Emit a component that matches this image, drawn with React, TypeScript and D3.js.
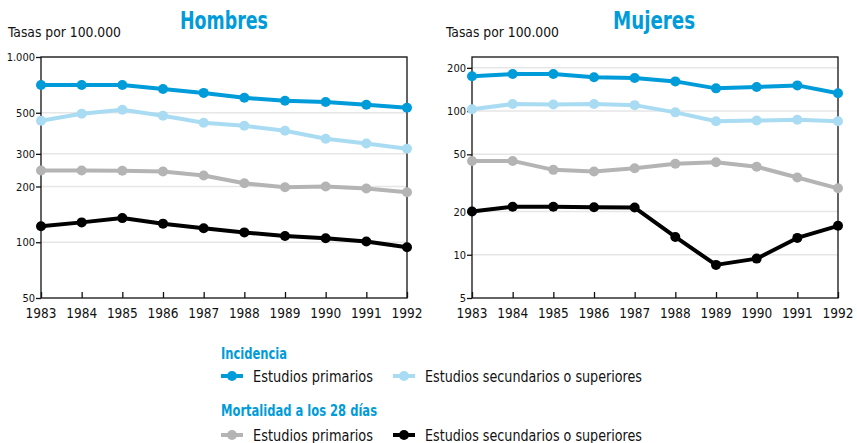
import React, { useEffect, useRef } from "react";
import * as d3 from "d3";

// years on the x axis
const years = [1983, 1984, 1985, 1986, 1987, 1988, 1989, 1990, 1991, 1992];

// Hombres
const menIncPrim = [706, 706, 706, 672, 640, 602, 580, 572, 552, 532];
const menIncSec = [453, 494, 519, 482, 442, 425, 400, 362, 341, 320];
const menMortPrim = [244, 244, 243, 241, 229, 208, 198, 200, 195, 186];
const menMortSec = [122, 128, 135, 126, 119, 113, 108, 105, 101, 94];

// Mujeres
const womenIncPrim = [175, 181, 181, 172, 170, 161, 144, 147, 151, 133];
const womenIncSec = [103, 112, 111, 112, 110, 98, 85, 86, 87, 85];
const womenMortPrim = [45, 45, 39, 38, 40, 43, 44, 41, 34.5, 29];
const womenMortSec = [20, 21.6, 21.6, 21.4, 21.3, 13.3, 8.5, 9.4, 13.1, 15.9];

const menTicks = [50, 100, 200, 300, 500, 1000];
const womenTicks = [5, 10, 20, 50, 100, 200];

const BLUE = "#009bd9";
const LIGHT = "#a9dcf3";
const GREY = "#b4b4b4";
const BLACK = "#000000";

const FONT = "'DejaVu Sans Condensed', 'DejaVu Sans', sans-serif";

const fmt = (v: number) => (v >= 1000 ? d3.format(",")(v).replace(",", ".") : String(v));

function drawPanel(svg, opts) {
  const { x0, x1, top, bottom, domain, ticks, series, title, titleX, titleW, labelX } = opts;
  const g = svg.append("g");

  const x = d3.scaleLinear().domain([years[0], years[years.length - 1]]).range([x0, x1]);
  const y = d3.scaleLog().domain(domain).range([bottom, top]);

  g.append("text")
    .attr("x", titleX - titleW / 2)
    .attr("y", 29)
    .attr("font-family", FONT)
    .attr("font-weight", "bold")
    .attr("font-size", 24)
    .attr("textLength", titleW)
    .attr("lengthAdjust", "spacingAndGlyphs")
    .attr("fill", BLUE)
    .text(title);

  g.append("text")
    .attr("x", labelX)
    .attr("y", 37)
    .attr("font-family", FONT)
    .attr("font-size", 14)
    .attr("textLength", 113)
    .attr("lengthAdjust", "spacingAndGlyphs")
    .attr("fill", "#111")
    .text("Tasas por 100.000");

  // gridlines
  g.selectAll(".grid")
    .data(ticks.filter((t) => t !== domain[0]))
    .join("line")
    .attr("x1", x0)
    .attr("x2", x1)
    .attr("y1", (d) => y(d))
    .attr("y2", (d) => y(d))
    .attr("stroke", "#e6e6e6")
    .attr("stroke-width", 1.5);

  // frame
  g.append("rect")
    .attr("x", x0)
    .attr("y", top)
    .attr("width", x1 - x0)
    .attr("height", bottom - top)
    .attr("fill", "none")
    .attr("stroke", "#111")
    .attr("stroke-width", 1.3);

  // y ticks
  const yAxis = d3.axisLeft(y).tickValues(ticks).tickSize(5).tickFormat(fmt);
  const ya = g.append("g").attr("transform", `translate(${x0},0)`).call(yAxis);
  ya.select(".domain").remove();
  ya.selectAll("line").attr("stroke", "#111").attr("stroke-width", 1.3);
  ya.selectAll("text")
    .attr("font-family", FONT)
    .attr("font-size", 11)
    .attr("fill", "#111")
    .attr("dx", 2);

  // x ticks (pointing inward)
  const xAxis = d3.axisTop(x).tickValues(years).tickSize(6).tickFormat(() => "");
  const xa = g.append("g").attr("transform", `translate(0,${bottom})`).call(xAxis);
  xa.select(".domain").remove();
  xa.selectAll("line").attr("stroke", "#111").attr("stroke-width", 1.3);

  g.selectAll(".xlab")
    .data(years)
    .join("text")
    .attr("x", (d) => x(d))
    .attr("y", bottom + 20)
    .attr("text-anchor", "middle")
    .attr("font-family", FONT)
    .attr("font-size", 13.5)
    .attr("fill", "#111")
    .text((d) => d);

  const line = d3
    .line<number>()
    .x((_, i) => x(years[i]))
    .y((d) => y(d));

  series.forEach((s) => {
    g.append("path")
      .attr("d", line(s.values))
      .attr("fill", "none")
      .attr("stroke", s.color)
      .attr("stroke-width", 4)
      .attr("stroke-linejoin", "round");
    g.selectAll(null)
      .data(s.values)
      .join("circle")
      .attr("cx", (_, i) => x(years[i]))
      .attr("cy", (d) => y(d))
      .attr("r", 5)
      .attr("fill", s.color);
  });
}

function legendItem(svg, xPos, yPos, color, label, w) {
  svg.append("line")
    .attr("x1", xPos)
    .attr("x2", xPos + 22)
    .attr("y1", yPos)
    .attr("y2", yPos)
    .attr("stroke", color)
    .attr("stroke-width", 4);
  svg.append("circle").attr("cx", xPos + 11).attr("cy", yPos).attr("r", 5).attr("fill", color);
  svg.append("text")
    .attr("x", xPos + 32)
    .attr("y", yPos + 5.5)
    .attr("font-family", FONT)
    .attr("font-size", 15)
    .attr("textLength", w)
    .attr("lengthAdjust", "spacingAndGlyphs")
    .attr("fill", "#111")
    .text(label);
}

export default function App() {
  const ref = useRef<SVGSVGElement>(null);

  useEffect(() => {
    const svg = d3.select(ref.current);
    svg.selectAll("*").remove();

    drawPanel(svg, {
      x0: 41,
      x1: 407,
      top: 57,
      bottom: 298,
      domain: [50, 1000],
      ticks: menTicks,
      title: "Hombres",
      titleX: 224,
      titleW: 88,
      labelX: 8,
      series: [
        { values: menIncPrim, color: BLUE },
        { values: menIncSec, color: LIGHT },
        { values: menMortPrim, color: GREY },
        { values: menMortSec, color: BLACK },
      ],
    });

    drawPanel(svg, {
      x0: 472,
      x1: 838,
      top: 57,
      bottom: 298,
      domain: [5, 238],
      ticks: womenTicks,
      title: "Mujeres",
      titleX: 654,
      titleW: 82,
      labelX: 446,
      series: [
        { values: womenIncPrim, color: BLUE },
        { values: womenIncSec, color: LIGHT },
        { values: womenMortPrim, color: GREY },
        { values: womenMortSec, color: BLACK },
      ],
    });

    svg.append("text")
      .attr("x", 221)
      .attr("y", 359)
      .attr("font-family", FONT)
      .attr("font-weight", "bold")
      .attr("font-size", 15)
      .attr("textLength", 66)
      .attr("lengthAdjust", "spacingAndGlyphs")
      .attr("fill", BLUE)
      .text("Incidencia");
    legendItem(svg, 221, 376, BLUE, "Estudios primarios", 120);
    legendItem(svg, 393, 376, LIGHT, "Estudios secundarios o superiores", 217);

    svg.append("text")
      .attr("x", 221)
      .attr("y", 416)
      .attr("font-family", FONT)
      .attr("font-weight", "bold")
      .attr("font-size", 15)
      .attr("textLength", 156)
      .attr("lengthAdjust", "spacingAndGlyphs")
      .attr("fill", BLUE)
      .text("Mortalidad a los 28 días");
    legendItem(svg, 221, 435, GREY, "Estudios primarios", 120);
    legendItem(svg, 393, 435, BLACK, "Estudios secundarios o superiores", 217);
  }, []);

  return (
    <svg
      ref={ref}
      width={857}
      height={443}
      style={{ position: "absolute", left: 0, top: 0, background: "#fff" }}
    />
  );
}
